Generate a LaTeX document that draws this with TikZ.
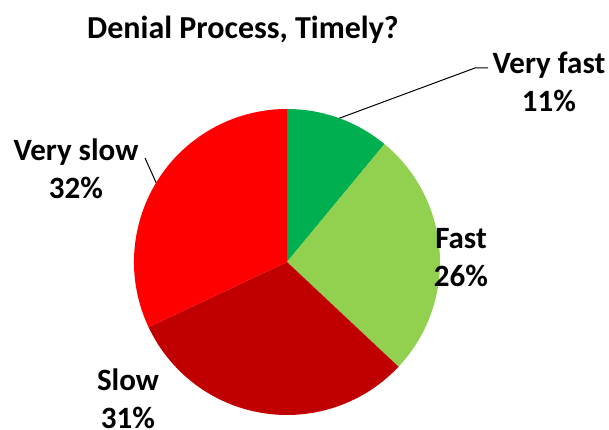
\documentclass[tikz,border=0pt]{standalone}
\usepackage{fontspec}
\setmainfont{Carlito}
\usetikzlibrary{calc}
\definecolor{cvfast}{HTML}{00B050}
\definecolor{cfast}{HTML}{92D050}
\definecolor{cslow}{HTML}{C00000}
\definecolor{cvslow}{HTML}{FF0000}
\begin{document}
\begin{tikzpicture}[x=1pt,y=1pt,
  lbl/.style={font=\bfseries\fontsize{31}{38}\selectfont, align=center, inner sep=0pt},
  leader/.style={draw=black, line width=1pt}]
\useasboundingbox (0,0) rectangle (609,430);
\coordinate (c) at (287,168);
\def\R{153}
\fill[cvfast] (c) -- ++(90:\R) arc[start angle=90, end angle=50.4, radius=\R] -- cycle;
\fill[cfast] (c) -- ++(50.4:\R) arc[start angle=50.4, end angle=-43.2, radius=\R] -- cycle;
\fill[cslow] (c) -- ++(-43.2:\R) arc[start angle=-43.2, end angle=-154.8, radius=\R] -- cycle;
\fill[cvslow] (c) -- ++(-154.8:\R) arc[start angle=-154.8, end angle=-270, radius=\R] -- cycle;
\node[font=\bfseries\fontsize{32}{38}\selectfont, inner sep=0pt, anchor=base] (title) at (243,391) {Denial Process, Timely?};
\node[lbl] (vfast) at (549,348) {Very fast\\11\%};
\node[lbl] (fast) at (461,172) {Fast\\26\%};
\node[lbl] (slow) at (128,31) {Slow\\31\%};
\node[lbl] (vslow) at (76,261) {Very slow\\32\%};
\coordinate (vfastpt) at ($(c)+(70:\R)$);
\coordinate (vfastknee) at (475,362);
\coordinate (vfastend) at (488,362);
\draw[leader] (vfastpt) -- (vfastknee) -- (vfastend);
\coordinate (vslowpt) at ($(c)+(148.8:\R)$);
\coordinate (vslowend) at (145,272);
\draw[leader] (vslowpt) -- (vslowend);
\end{tikzpicture}
\end{document}
